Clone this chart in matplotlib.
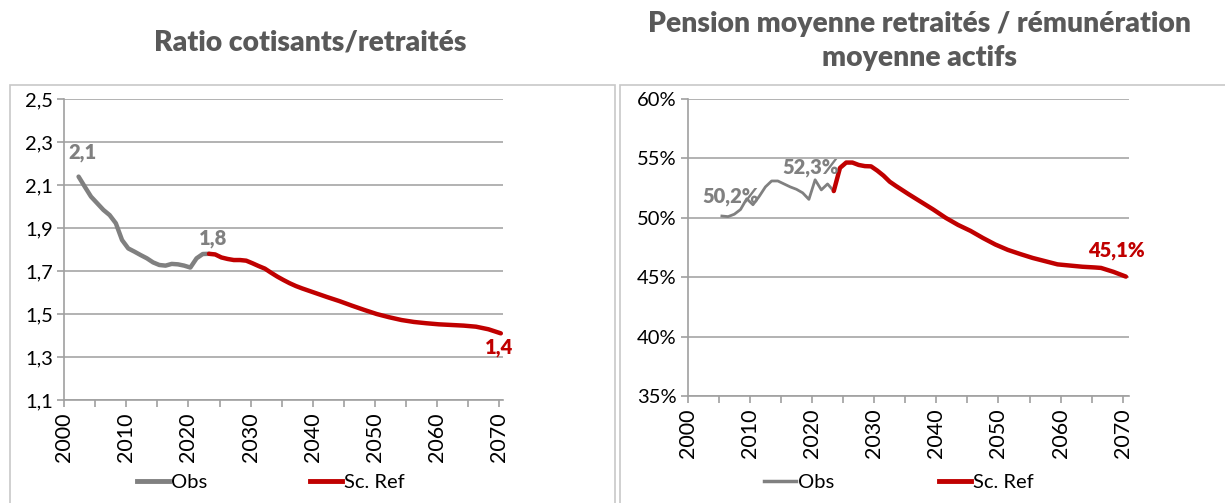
import matplotlib
matplotlib.use("Agg")
import matplotlib.pyplot as plt
from matplotlib.ticker import MultipleLocator, FuncFormatter
from matplotlib.lines import Line2D
from matplotlib.patches import Rectangle

plt.rcParams['font.family'] = ['Lato', 'DejaVu Sans']

# ---------------- data ----------------
left_title = "Ratio cotisants/retraités"
right_title = "Pension moyenne retraités / rémunération\nmoyenne actifs"
legend_labels = ["Obs", "Sc. Ref"]
left_yticks = [1.1, 1.3, 1.5, 1.7, 1.9, 2.1, 2.3, 2.5]
right_yticks = [35, 40, 45, 50, 55, 60]
x_ticks = [2000, 2010, 2020, 2030, 2040, 2050, 2060, 2070]

ratio_obs_years = [2002, 2003, 2004, 2005, 2006, 2007, 2008, 2009, 2010, 2011, 2012,
                   2013, 2014, 2015, 2016, 2017, 2018, 2019, 2020, 2021, 2022, 2023]
ratio_obs = [2.139, 2.092, 2.046, 2.015, 1.984, 1.960, 1.922, 1.844, 1.805, 1.790, 1.774,
             1.759, 1.740, 1.728, 1.725, 1.733, 1.731, 1.725, 1.716, 1.759, 1.779, 1.780]
ratio_ref_years = [2023, 2024, 2025, 2026, 2027, 2028, 2029, 2030, 2031, 2032, 2033, 2034,
                   2035, 2036, 2037, 2038, 2040, 2042, 2044, 2046, 2048, 2050, 2052, 2054,
                   2056, 2058, 2060, 2062, 2064, 2066, 2068, 2070]
ratio_ref = [1.780, 1.777, 1.763, 1.756, 1.751, 1.751, 1.748, 1.736, 1.723, 1.711, 1.692, 1.674,
             1.658, 1.643, 1.630, 1.619, 1.599, 1.579, 1.560, 1.539, 1.519, 1.500, 1.485, 1.472,
             1.463, 1.457, 1.452, 1.449, 1.446, 1.441, 1.429, 1.410]

pens_obs_years = [2005, 2006, 2007, 2008, 2009, 2010, 2011, 2012, 2013, 2014, 2015, 2016,
                  2017, 2018, 2019, 2020, 2021, 2022, 2023]
pens_obs = [50.15, 50.10, 50.30, 50.70, 51.60, 51.10, 51.80, 52.60, 53.10, 53.10, 52.85, 52.60,
            52.40, 52.10, 51.55, 53.20, 52.35, 52.85, 52.25]
pens_ref_years = [2023, 2024, 2025, 2026, 2027, 2028, 2029, 2030, 2031, 2032, 2033, 2035,
                  2037, 2039, 2041, 2043, 2045, 2047, 2049, 2051, 2053, 2055, 2057, 2059,
                  2061, 2063, 2065, 2066, 2068, 2070]
pens_ref = [52.25, 54.20, 54.65, 54.65, 54.45, 54.35, 54.33, 53.97, 53.55, 53.04, 52.68, 52.00,
            51.35, 50.70, 50.00, 49.40, 48.90, 48.30, 47.75, 47.30, 46.95, 46.62, 46.35, 46.08,
            45.98, 45.88, 45.82, 45.78, 45.45, 45.05]

left_annotations = [("2,1", 2002.9, 2.25, "obs"), ("1,8", 2023.9, 1.852, "obs"), ("1,4", 2070.0, 1.342, "ref")]
right_annotations = [("50,2%", 2006.9, 51.78, "obs"), ("52,3%", 2019.7, 54.25, "obs"), ("45,1%", 2069.0, 47.23, "ref")]

# ---------------- style ----------------
GRAY = "#808080"
RED = "#C00000"
TITLE_C = "#595959"
GRID_C = "#a6a6a6"
AX_C = "#a0a0a0"
BORDER_C = "#c8c8c8"
W, H = 1225, 503
TICK_FS = 14.5
XTICK_FS = 15.5
ANN_FS = 14.5
TITLE_FS = 20.3

fig = plt.figure(figsize=(W / 100, H / 100), dpi=100)

# panel borders
for (x0, x1) in [(10, 615), (620, 1240)]:
    fig.patches.append(Rectangle((x0 / W, -0.1), (x1 - x0) / W, (H - 85) / H + 0.1,
                                 transform=fig.transFigure, fill=False,
                                 edgecolor=BORDER_C, linewidth=1.2, zorder=0))


def fmt_axes(ax, xlim):
    ax.set_xlim(*xlim)
    for s in ["top", "right"]:
        ax.spines[s].set_visible(False)
    for s in ["left", "bottom"]:
        ax.spines[s].set_color(AX_C)
        ax.spines[s].set_linewidth(1.2)
    ax.set_xticks(x_ticks)
    ax.xaxis.set_minor_locator(MultipleLocator(5))
    ax.tick_params(axis="x", which="both", length=5, color=AX_C, width=1.2,
                   labelsize=XTICK_FS, labelrotation=90, pad=4)
    ax.tick_params(axis="y", length=5, color=AX_C, width=1.2, labelsize=TICK_FS, pad=3)
    ax.grid(axis="y", color=GRID_C, linewidth=1.2)
    ax.set_axisbelow(True)


# ---------------- left chart ----------------
axL = fig.add_axes([64.3 / W, (H - 400) / H, 438.4 / W, 301 / H])
offL = 0.3
axL.plot([y + offL for y in ratio_obs_years], ratio_obs, color=GRAY, lw=3.2,
         solid_capstyle="round", solid_joinstyle="round", zorder=3)
axL.plot([y + offL for y in ratio_ref_years], ratio_ref, color=RED, lw=3.2,
         solid_capstyle="round", solid_joinstyle="round", zorder=3)
fmt_axes(axL, (2000, 2070.6))
axL.set_ylim(1.1, 2.5)
axL.set_yticks(left_yticks)
axL.yaxis.set_major_formatter(FuncFormatter(lambda v, p: f"{v:.1f}".replace(".", ",")))
for txt, x, y, kind in left_annotations:
    axL.text(x, y, txt, color=GRAY if kind == "obs" else RED, fontsize=ANN_FS,
             fontweight="heavy", ha="center", va="center", zorder=4, clip_on=False)
fig.text(310 / W, 1 - 43 / H, left_title, ha="center", va="center",
         fontsize=TITLE_FS, fontweight="heavy", color=TITLE_C)
hL = [Line2D([], [], color=GRAY, lw=3.5), Line2D([], [], color=RED, lw=3.5)]
fig.legend(hL, legend_labels, loc="center", bbox_to_anchor=(271 / W, 21 / H), ncol=2,
           frameon=False, fontsize=TICK_FS, handlelength=1.6, handletextpad=0.1,
           columnspacing=5.1)

# ---------------- right chart ----------------
axR = fig.add_axes([687.7 / W, (H - 396) / H, 441.3 / W, 297 / H])
offR = 0.5
axR.plot([y + offR for y in pens_obs_years], pens_obs, color=GRAY, lw=2.0,
         solid_joinstyle="round", zorder=3)
axR.plot([y + offR for y in pens_ref_years], pens_ref, color=RED, lw=3.2,
         solid_capstyle="round", solid_joinstyle="round", zorder=3)
fmt_axes(axR, (2000, 2071))
axR.set_ylim(35, 60)
axR.set_yticks(right_yticks)
axR.yaxis.set_major_formatter(FuncFormatter(lambda v, p: f"{v:.0f}%"))
for txt, x, y, kind in right_annotations:
    axR.text(x, y, txt, color=GRAY if kind == "obs" else RED, fontsize=ANN_FS,
             fontweight="heavy", ha="center", va="center", zorder=4, clip_on=False)
fig.text(920 / W, 1 - 41 / H, right_title, ha="center", va="center",
         fontsize=TITLE_FS, fontweight="heavy", color=TITLE_C, linespacing=1.4)
hR = [Line2D([], [], color=GRAY, lw=2.5), Line2D([], [], color=RED, lw=3.5)]
fig.legend(hR, legend_labels, loc="center", bbox_to_anchor=(899 / W, 21 / H), ncol=2,
           frameon=False, fontsize=TICK_FS, handlelength=1.6, handletextpad=0.1,
           columnspacing=5.2)

fig.savefig("out.png", dpi=100, facecolor="white")
